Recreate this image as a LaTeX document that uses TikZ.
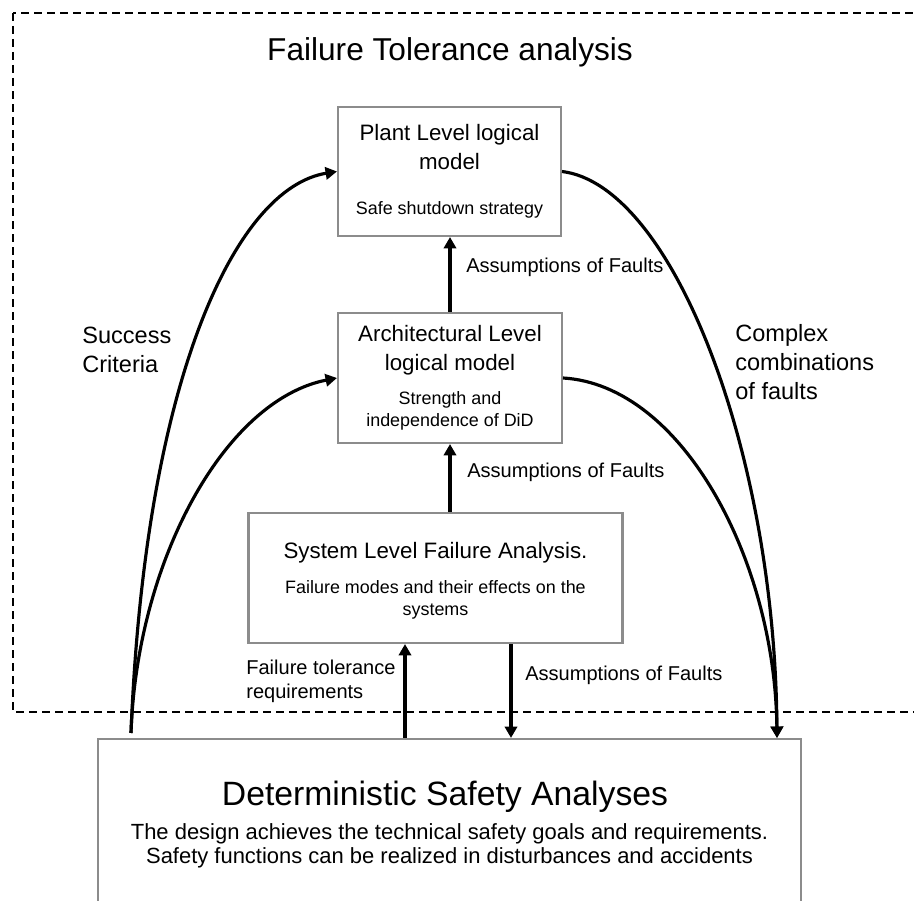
\documentclass[tikz,border=0pt]{standalone}
\usepackage{fontspec}
\setmainfont{Liberation Sans}
\usetikzlibrary{calc}
\usetikzlibrary{arrows.meta}
\definecolor{boxgray}{HTML}{8C8C8C}

\begin{document}
\begin{tikzpicture}[
    x=0.02cm, y=-0.02cm,
    box/.style={draw=boxgray, line width=1.2pt, fill=white},
    flow/.style={line width=1.8pt, -{Triangle[length=6.5pt, width=7pt]}},
    main/.style={align=center, inner sep=0pt, font=\fontsize{12.7}{16.5}\selectfont},
    sub/.style={align=center, inner sep=0pt, font=\fontsize{10.2}{12.5}\selectfont},
    lbl/.style={align=left, anchor=west, inner sep=0pt, font=\fontsize{11.4}{13.7}\selectfont},
    side/.style={align=left, anchor=west, inner sep=0pt, font=\fontsize{13.4}{16.5}\selectfont}
  ]
  \clip (0,0) rectangle (914,901);
  % Failure tolerance frame
  \draw[line width=1.3pt, dash pattern=on 4.6pt off 2.8pt] (13,13) rectangle (960,712);
  \node[inner sep=0pt, font=\fontsize{18}{22}\selectfont] (title) at (450,52) {Failure Tolerance analysis};

  % Plant level
  \node[box, minimum width=4.46cm, minimum height=2.58cm] (plant) at (449.5,171.5) {};
  \node[main] (plantT) at (449.5,147) {Plant Level logical\\model};
  \node[sub] (plantS) at (449.5,210) {Safe shutdown strategy};

  % Architectural level
  \node[box, minimum width=4.48cm, minimum height=2.6cm] (arch) at (450,378) {};
  \node[main] (archT) at (450,350) {Architectural Level\\logical model};
  \node[sub] (archS) at (450,411) {Strength and\\independence of DiD};

  % System level
  \node[box, minimum width=7.48cm, minimum height=2.6cm] (sys) at (435.5,578) {};
  \node[main] (sysT) at (435.5,553) {System Level Failure Analysis.};
  \node[sub] (sysS) at (435.5,600) {Failure modes and their effects on the\\systems};

  % DSA
  \node[box, minimum width=14.06cm, minimum height=3.8cm] (dsa) at (449.5,834) {};
  \node[inner sep=0pt, font=\fontsize{19.2}{23}\selectfont] (dsaT) at (445,797) {Deterministic Safety Analyses};
  \node[align=center, inner sep=0pt, font=\fontsize{12.5}{13.7}\selectfont] (dsaS) at (449.5,846)
    {The design achieves the technical safety goals and requirements.\\Safety functions can be realized in disturbances and accidents};

  % straight connectors
  \coordinate (upx) at (405,0);
  \coordinate (dnx) at (511,0);
  \draw[flow] (arch.north) -- (arch.north |- plant.south);
  \draw[flow] (arch.south |- sys.north) -- (arch.south);
  \draw[flow] (upx |- dsa.north) -- (upx |- sys.south);
  \draw[flow] (dnx |- sys.south) -- (dnx |- dsa.north);

  % curved connectors
  \coordinate (sc) at (131,733);
  \coordinate (cc) at (777,0);
  \draw[flow] (sc) .. controls (145,380) and (235,188) .. (plant.west);
  \draw[flow] (sc) .. controls (137,560) and (225,400) .. (arch.west);
  \draw[flow] (plant.east) .. controls (672,185) and (775,450) .. (cc |- dsa.north);
  \draw[flow] (arch.east) .. controls (682,385) and (775,560) .. (cc |- dsa.north);

  % labels
  \node[lbl] (af1) at (466,267) {Assumptions of Faults};
  \node[lbl] (af2) at (467,472) {Assumptions of Faults};
  \node[lbl] (af3) at (525,675) {Assumptions of Faults};
  \node[lbl] (ftr) at (246,681) {Failure tolerance\\requirements};
  \node[side] (succ) at (82,350) {Success\\Criteria};
  \node[side] (cplx) at (735,362) {Complex\\combinations\\of faults};
\end{tikzpicture}
\end{document}
